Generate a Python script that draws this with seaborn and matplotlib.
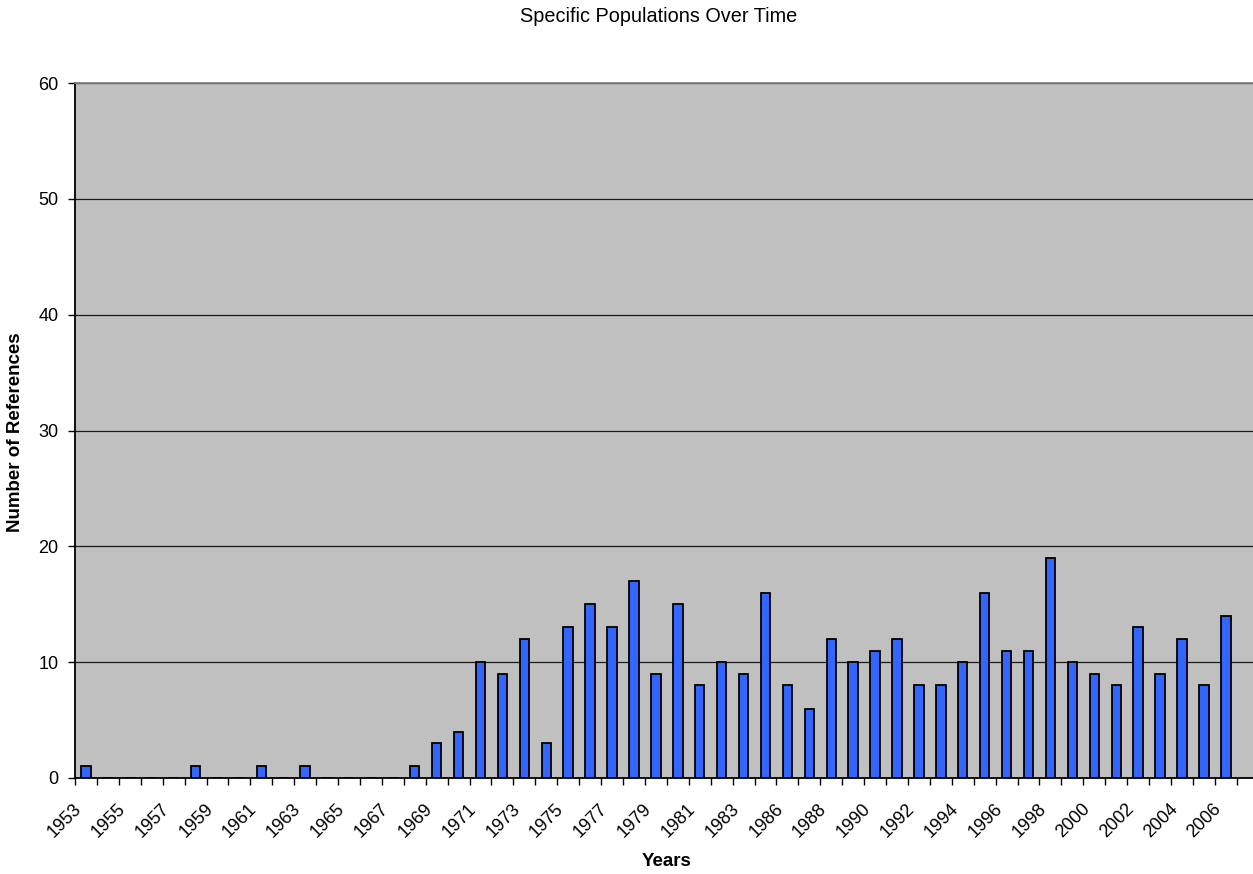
import numpy as np
import pandas as pd
import matplotlib
matplotlib.use("Agg")
import matplotlib.pyplot as plt
import matplotlib.transforms as mtransforms
import seaborn as sns

# categories (one year between 1983 and 1986 is shown only as an unlabeled slot)
years = [str(y) for y in range(1953, 1984)] + ["1985"] + [str(y) for y in range(1986, 2007)]

# number of references per year
counts = [1, 0, 0, 0, 0, 1, 0, 0, 1, 0,
          1, 0, 0, 0, 0, 1, 3, 4, 10, 9,
          12, 3, 13, 15, 13, 17, 9, 15, 8, 10,
          9, 16, 8, 6, 12, 10, 11, 12, 8, 8,
          10, 16, 11, 11, 19, 10, 9, 8, 13, 9,
          12, 8, 14]

y_ticks = [0, 10, 20, 30, 40, 50, 60]

df = pd.DataFrame({"year": years, "refs": counts})

sns.set_style("white")
plt.rcParams["font.family"] = ["Liberation Sans", "DejaVu Sans"]
plt.rcParams["text.color"] = "black"
plt.rcParams["xtick.color"] = "black"
plt.rcParams["ytick.color"] = "black"

W, H = 1253, 874
fig = plt.figure(figsize=(W / 100, H / 100), dpi=100)
# plot area: left 75px, top 83px, bottom 778px, runs past the right edge
ax = fig.add_axes([75 / W, (H - 778) / H, (W - 75) / W, (778 - 83) / H])
ax.set_facecolor("#C0C0C0")

sns.barplot(data=df, x="year", y="refs", order=years, color="#3366FF",
            saturation=1, width=0.43, edgecolor="black", linewidth=1.3,
            ax=ax, zorder=3)

n = len(years)
ax.set_xlim(-0.5, n + 0.74 - 0.5)
ax.set_ylim(0, 60)
ax.set_yticks(y_ticks)
ax.set_yticklabels([str(v) for v in y_ticks])
ax.yaxis.grid(True, color="#1a1a1a", linewidth=0.9, zorder=0)
ax.set_axisbelow(True)

# labels on every other category, tick marks on category boundaries
ax.set_xticks(np.arange(0, n, 2))
ax.set_xticklabels(years[::2], rotation=45, ha="right", va="top",
                   rotation_mode="anchor", fontsize=13)
ax.set_xticks(np.arange(-0.5, n + 0.5, 1), minor=True)
ax.tick_params(axis="x", which="major", length=0, pad=16, labelcolor="black")
ax.tick_params(axis="x", which="minor", length=5, width=1, color="black",
               direction="out", bottom=True)
ax.tick_params(axis="y", length=5, width=1, color="black", direction="out",
               left=True, labelsize=13, pad=7, labelcolor="black")
shift = mtransforms.ScaledTranslation(-13 / 100, 0, fig.dpi_scale_trans)
for lab in ax.get_xticklabels():
    lab.set_transform(lab.get_transform() + shift)

for side in ["left", "bottom"]:
    ax.spines[side].set_color("black")
    ax.spines[side].set_linewidth(1.3)
ax.spines["top"].set_color("#808080")
ax.spines["top"].set_linewidth(1.3)
ax.spines["right"].set_visible(False)

ax.set_xlabel("")
ax.set_ylabel("")
fig.text(659 / W, 1 - 16 / H, "Specific Populations Over Time",
         ha="center", va="center", fontsize=14.3, color="black")
fig.text(667 / W, 1 - 861 / H, "Years", ha="center", va="center",
         fontsize=13.5, fontweight="bold", color="black")
fig.text(16 / W, 1 - 432 / H, "Number of References", ha="center",
         va="center", rotation=90, fontsize=13.5, fontweight="bold",
         color="black")

fig.savefig("out.png", dpi=100)
